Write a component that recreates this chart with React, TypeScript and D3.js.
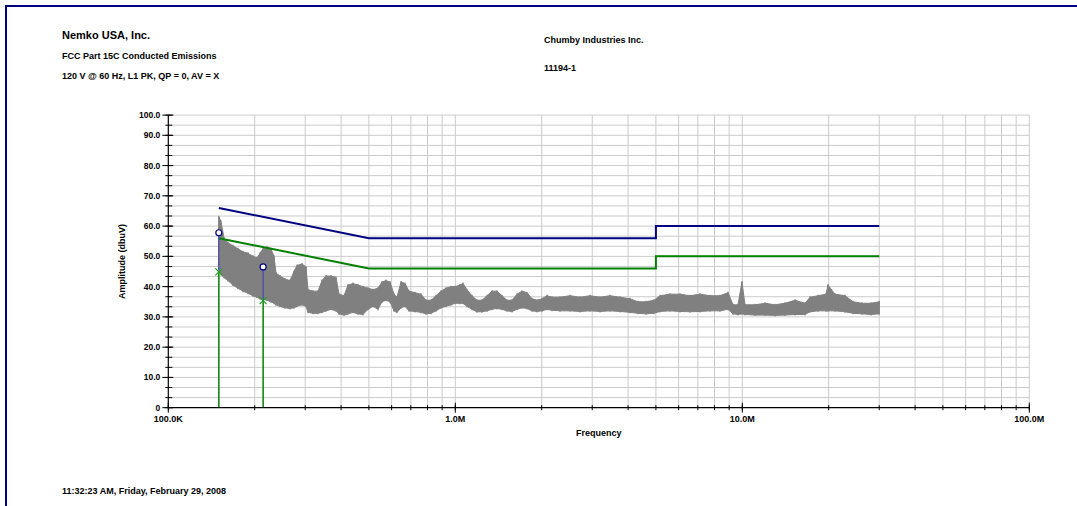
import React, { useRef, useEffect } from "react";
import * as d3 from "d3";

// peak trace: frequency (MHz), bottom and top of the band (dBuV)
const traceFreq = [
  0.15, 0.1526, 0.1564, 0.1614, 0.168, 0.1749, 0.1821, 0.1895, 0.1973, 0.2037,
  0.2087, 0.2138, 0.2207, 0.2279, 0.2335, 0.2373, 0.245, 0.2551, 0.2655, 0.2742,
  0.2808, 0.2923, 0.3018, 0.3067, 0.3193, 0.3324, 0.3432, 0.3544, 0.3689, 0.384,
  0.3934, 0.4095, 0.4228, 0.4402, 0.4581, 0.4768, 0.4964, 0.5168, 0.5379, 0.5554,
  0.5735, 0.5922, 0.6115, 0.6264, 0.6468, 0.6679, 0.6897, 0.7237, 0.7594, 0.7905,
  0.823, 0.8567, 0.8918, 0.9282, 0.9661, 0.998, 1.038, 1.064, 1.098, 1.143,
  1.19, 1.239, 1.29, 1.342, 1.397, 1.455, 1.514, 1.576, 1.641, 1.708,
  1.778, 1.85, 1.927, 2.005, 2.087, 2.173, 2.317, 2.51, 2.72, 2.947,
  3.193, 3.459, 3.749, 4.062, 4.332, 4.619, 4.924, 5.167, 5.599, 6.066,
  6.573, 7.122, 7.718, 8.36, 8.918, 9.282, 9.66, 9.975, 10.22, 11.07,
  12.0, 13.0, 14.08, 15.26, 16.54, 17.22, 18.36, 19.57, 19.89, 21.04,
  22.8, 24.31, 26.13, 28.08, 30.0,
];
const traceLow = [
  46, 44, 43, 42, 40.5, 39.5, 38.5, 37.8, 37, 36.5,
  36, 35.8, 35.5, 35, 34.5, 34, 33.5, 33, 32.8, 33,
  33.5, 34, 33.5, 31.5, 31.2, 31.2, 31.5, 32, 32.5, 32,
  31, 30.6, 31, 31.5, 31, 30.8, 32.5, 33.5, 32.5, 35,
  35.5, 35, 32, 31.5, 33, 33.5, 32, 31.8, 31.5, 31,
  31.2, 32, 33, 33.5, 34, 34.5, 34.5, 34.5, 33.5, 32.5,
  31.7, 31.7, 32, 32.5, 32.8, 32.5, 32, 31.8, 32.5, 33,
  32.8, 32, 31.8, 32, 32.5, 32.2, 32, 32, 31.8, 32,
  31.8, 32, 31.8, 31.5, 31.2, 31, 31.2, 31.8, 32, 31.8,
  31.7, 31.8, 32, 32, 32.5, 31, 30.8, 31, 30.8, 30.6,
  30.6, 30.5, 30.6, 30.8, 30.8, 31.7, 32, 32, 32, 32,
  31.7, 31.2, 31, 30.8, 31,
];
const traceHigh = [
  63.1, 61.5, 56, 54.5, 53.5, 52.5, 51.5, 51, 50, 49.5,
  51, 52.5, 53, 52.5, 50, 44.5, 43.5, 42.5, 42, 45,
  47, 47.5, 46.5, 39, 38.5, 38.5, 42, 43.5, 43.5, 43,
  37.5, 37, 40.5, 41, 40.5, 40, 39.5, 39, 39.5, 41.5,
  42, 41.5, 37.5, 36.5, 41.5, 41, 38.5, 38, 37.5, 35.5,
  35.5, 37, 38.5, 39.5, 40, 40, 40.5, 41, 39, 37,
  35.5, 35.5, 37, 38.5, 38.5, 37, 35.5, 35.5, 37.5, 38.5,
  38, 36, 35.5, 36, 37, 36.5, 36.5, 37, 36.5, 37,
  36.5, 37, 36.5, 36, 35, 35, 35.5, 37, 37.5, 37.5,
  37, 37.5, 37, 37, 38, 34, 34, 41.5, 34, 34,
  34.5, 34, 34.5, 35.5, 34.5, 36.5, 37, 37.5, 40.5, 37.5,
  37, 35, 34.5, 34.5, 35,
];

// FCC 15.207 class B limits
const limitFreq = [0.15, 0.5, 5, 5, 30];
const qpLimit = [66, 56, 56, 60, 60];
const avLimit = [56, 46, 46, 50, 50];

// measured points: QP = circle, AV = X
const markerFreq = [0.15, 0.214];
const markerQP = [57.8, 46.5];
const markerAV = [44.9, 35.4];

const yTicks = [0, 10, 20, 30, 40, 50, 60, 70, 80, 90, 100];
const xDecades = [0.1, 1, 10, 100];
const xTickLabels = ["100.0K", "1.0M", "10.0M", "100.0M"];

const headerLeft = [
  "Nemko USA, Inc.",
  "FCC Part 15C Conducted Emissions",
  "120 V @ 60 Hz, L1 PK, QP = 0, AV = X",
];
const headerRight = ["Chumby Industries Inc.", "11194-1"];
const footer = "11:32:23 AM, Friday, February 29, 2008";

const W = 1077;
const H = 506;
// the printout squeezes the last division: 90 sits on the regular grid, 100 just above it
const plot = { left: 168.3, right: 1029.3, top: 115.1, y90: 135.3, bottom: 407.7 };
const font = "'Liberation Sans', Arial, sans-serif";
const NAVY = "#000080";
const GREEN = "#008000";
const GRID = "#cbcbcb";

const App = () => {
  const ref = useRef<SVGSVGElement>(null);

  useEffect(() => {
    const svg = d3.select(ref.current);
    svg.selectAll("*").remove();

    const x = d3.scaleLog().domain([0.1, 100]).range([plot.left, plot.right]);
    const y = d3
      .scaleLinear()
      .domain([0, 90, 100])
      .range([plot.bottom, plot.y90, plot.top]);

    // frame (only top and left edges fall inside the picture)
    svg
      .append("rect")
      .attr("x", 6)
      .attr("y", 6)
      .attr("width", W + 100)
      .attr("height", H + 100)
      .attr("fill", "white")
      .attr("stroke", NAVY)
      .attr("stroke-width", 2);

    const txt = (s: string, tx: number, ty: number, size: number, anchor = "start") =>
      svg
        .append("text")
        .attr("x", tx)
        .attr("y", ty)
        .attr("font-family", font)
        .attr("font-weight", "bold")
        .attr("font-size", size)
        .attr("text-anchor", anchor)
        .attr("fill", "#000")
        .text(s);

    txt(headerLeft[0], 62, 39, 11);
    txt(headerLeft[1], 62, 59, 9);
    txt(headerLeft[2], 62, 79, 9);
    txt(headerRight[0], 544, 43, 9);
    txt(headerRight[1], 544, 71, 9);
    txt(footer, 62, 494, 9);

    // minor values: thirds of a division up to 90, one midpoint above; 1..9 per decade in x
    const yMinor = d3.range(0, 28).map((i) => (i * 10) / 3).concat([95, 100]);
    const xMinor: number[] = [];
    xDecades.slice(0, 3).forEach((d) => {
      for (let k = 1; k <= 9; k++) xMinor.push(d * k);
    });
    xMinor.push(100);

    const g = svg.append("g");

    g.selectAll(".hgrid")
      .data(yMinor.filter((v) => v > 0))
      .join("line")
      .attr("x1", plot.left)
      .attr("x2", plot.right)
      .attr("y1", (d) => y(d))
      .attr("y2", (d) => y(d))
      .attr("stroke", GRID)
      .attr("stroke-width", 1);

    g.selectAll(".vgrid")
      .data(xMinor.filter((v) => v > 0.1))
      .join("line")
      .attr("x1", (d) => x(d))
      .attr("x2", (d) => x(d))
      .attr("y1", plot.top)
      .attr("y2", plot.bottom)
      .attr("stroke", GRID)
      .attr("stroke-width", 1);

    // trace band
    const idx = d3.range(traceFreq.length);
    const area = d3
      .area<number>()
      .x((i) => x(traceFreq[i]))
      .y0((i) => y(traceLow[i]))
      .y1((i) => y(traceHigh[i]));
    g.append("path")
      .attr("d", area(idx))
      .attr("fill", "#808080")
      .attr("stroke", "#808080")
      .attr("stroke-width", 1);
    // vertical sweep strokes give the band its ragged look
    g.selectAll(".sweep")
      .data(idx)
      .join("line")
      .attr("x1", (i) => x(traceFreq[i]))
      .attr("x2", (i) => x(traceFreq[i]))
      .attr("y1", (i) => y(traceLow[i]) + 1)
      .attr("y2", (i) => y(traceHigh[i]) - 1)
      .attr("stroke", "#808080")
      .attr("stroke-width", 1.2);

    // limit lines
    const line = (vals: number[]) =>
      d3
        .line<number>()
        .x((i) => x(limitFreq[i]))
        .y((i) => y(vals[i]))(d3.range(limitFreq.length));
    g.append("path").attr("d", line(avLimit)).attr("fill", "none").attr("stroke", GREEN).attr("stroke-width", 2);
    g.append("path").attr("d", line(qpLimit)).attr("fill", "none").attr("stroke", NAVY).attr("stroke-width", 2);

    // markers
    markerFreq.forEach((f, i) => {
      const mx = x(f);
      g.append("line")
        .attr("x1", mx).attr("x2", mx)
        .attr("y1", y(markerAV[i])).attr("y2", y(0))
        .attr("stroke", GREEN).attr("stroke-width", 1.5);
      g.append("line")
        .attr("x1", mx).attr("x2", mx)
        .attr("y1", y(markerQP[i])).attr("y2", y(markerAV[i]))
        .attr("stroke", "#3c3cc0").attr("stroke-width", 1);
      const ay = y(markerAV[i]);
      g.append("path")
        .attr("d", `M${mx - 3.5},${ay - 3.5}L${mx + 3.5},${ay + 3.5}M${mx - 3.5},${ay + 3.5}L${mx + 3.5},${ay - 3.5}`)
        .attr("stroke", "#20a020").attr("stroke-width", 1.2);
      g.append("circle")
        .attr("cx", mx).attr("cy", y(markerQP[i])).attr("r", 3)
        .attr("fill", "white").attr("stroke", NAVY).attr("stroke-width", 1.2);
    });

    // y axis
    const ax = svg.append("g").attr("stroke", "#000");
    ax.append("line")
      .attr("x1", plot.left).attr("x2", plot.left)
      .attr("y1", plot.top).attr("y2", plot.bottom)
      .attr("stroke-width", 1.2);
    ax.selectAll(".ymin")
      .data(yMinor)
      .join("line")
      .attr("x1", plot.left - 3).attr("x2", plot.left + 4)
      .attr("y1", (d) => y(d)).attr("y2", (d) => y(d));
    ax.selectAll(".ymaj")
      .data(yTicks)
      .join("line")
      .attr("x1", plot.left - 6).attr("x2", plot.left + 5)
      .attr("y1", (d) => y(d)).attr("y2", (d) => y(d));
    yTicks.forEach((v) =>
      txt(v === 0 ? "0" : v.toFixed(1), plot.left - 8, y(v) + 3, 8.5, "end")
    );

    // x axis
    ax.append("line")
      .attr("x1", plot.left).attr("x2", plot.right)
      .attr("y1", plot.bottom).attr("y2", plot.bottom)
      .attr("stroke-width", 1.2);
    ax.selectAll(".xmin")
      .data(xMinor)
      .join("line")
      .attr("x1", (d) => x(d)).attr("x2", (d) => x(d))
      .attr("y1", plot.bottom - 2.5).attr("y2", plot.bottom + 2.5);
    ax.selectAll(".xmaj")
      .data(xDecades)
      .join("line")
      .attr("x1", (d) => x(d)).attr("x2", (d) => x(d))
      .attr("y1", plot.bottom - 5).attr("y2", plot.bottom + 5);
    xDecades.forEach((d, i) => txt(xTickLabels[i], x(d), plot.bottom + 14, 9, "middle"));

    txt("Frequency", (plot.left + plot.right) / 2, 436, 9, "middle");
    txt("Amplitude (dbuV)", 0, 0, 9, "middle").attr(
      "transform",
      `translate(125,${(plot.top + plot.bottom) / 2}) rotate(-90)`
    );

    return () => undefined;
  }, []);

  return (
    <svg
      ref={ref}
      width={W}
      height={H}
      style={{ position: "absolute", left: 0, top: 0, background: "white", overflow: "hidden" }}
    />
  );
};

export default App;
